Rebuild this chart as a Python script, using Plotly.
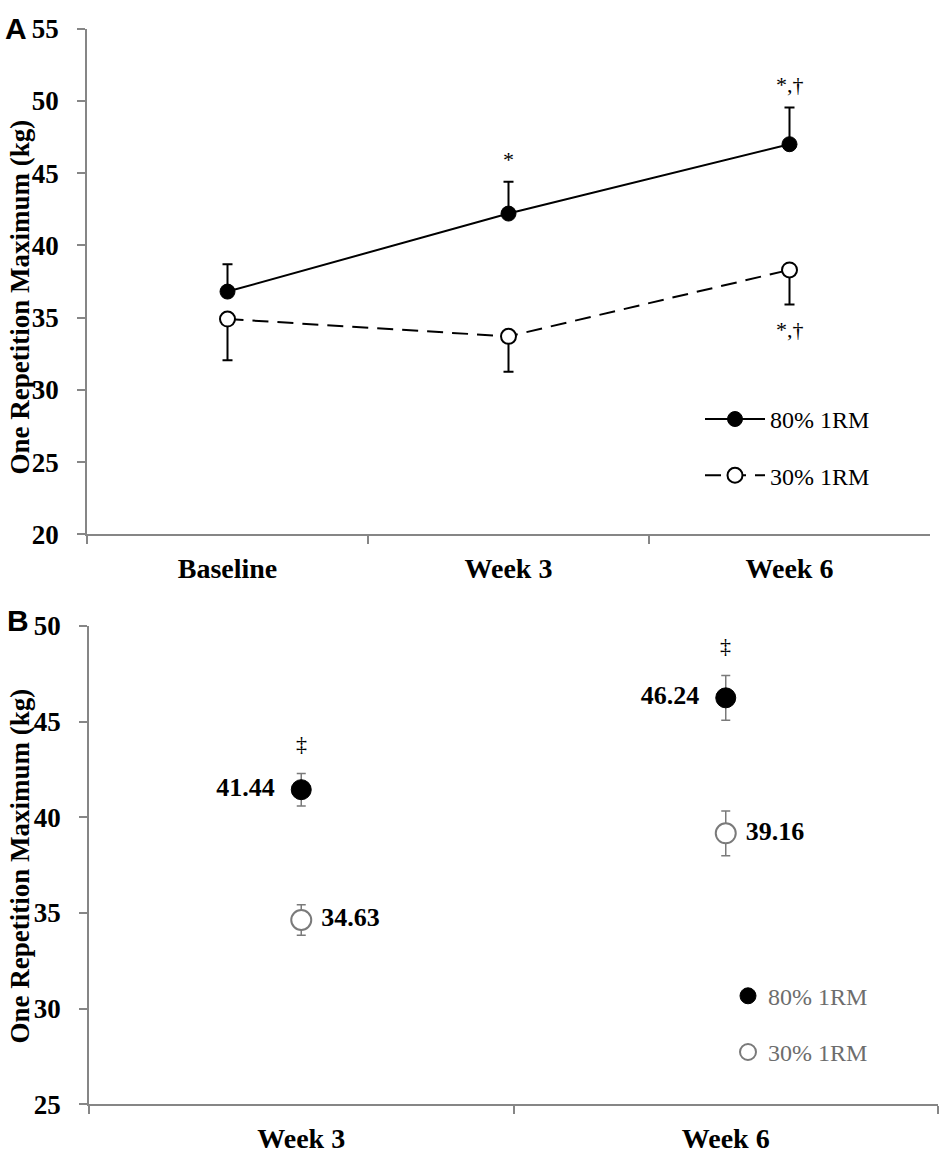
import plotly.graph_objects as go

# Panel A data
weeks_a = ["Baseline", "Week 3", "Week 6"]
rm80_a = [36.8, 42.2, 47.0]
rm80_a_err = [1.9, 2.2, 2.55]
rm30_a = [34.9, 33.7, 38.3]
rm30_a_err = [2.85, 2.45, 2.4]
sig80_a = ["", "*", "*,\u2020"]
sig30_a = ["", "", "*,\u2020"]

# Panel B data
weeks_b = ["Week 3", "Week 6"]
rm80_b = [41.44, 46.24]
rm80_b_err = [0.85, 1.17]
rm30_b = [34.63, 39.16]
rm30_b_err = [0.8, 1.17]
sig_b = ["\u2021", "\u2021"]

W, H = 945, 1167
SERIF = "Liberation Serif, Times New Roman, serif"
SANS = "Liberation Sans, Arial, sans-serif"
AXIS_GRAY = "#868686"
B_GRAY = "#7a7a7a"


def px_x(p):
    return p / W


def px_y(p):
    return (H - p) / H


fig = go.Figure()

# ---- Panel A ----
fig.add_trace(go.Scatter(
    x=weeks_a, y=rm80_a, name="80% 1RM", mode="lines+markers",
    line=dict(color="black", width=2),
    marker=dict(size=15, color="black", line=dict(color="black", width=1)),
    error_y=dict(type="data", symmetric=False, array=rm80_a_err,
                 arrayminus=[0] * len(rm80_a), color="black", thickness=2, width=5),
    xaxis="x", yaxis="y", legend="legend", legendgroup="a80",
))
fig.add_trace(go.Scatter(
    x=weeks_a, y=rm30_a, name="30% 1RM", mode="lines+markers",
    line=dict(color="black", width=2, dash="16px,9px"),
    marker=dict(size=15, color="white", line=dict(color="black", width=2)),
    error_y=dict(type="data", symmetric=False, array=[0] * len(rm30_a),
                 arrayminus=rm30_a_err, color="black", thickness=2, width=5),
    xaxis="x", yaxis="y", legend="legend", legendgroup="a30",
))

# ---- Panel B ----
fig.add_trace(go.Scatter(
    x=weeks_b, y=rm80_b, name="80% 1RM", mode="markers+text",
    marker=dict(size=20, color="black", line=dict(color="black", width=1)),
    error_y=dict(type="data", array=rm80_b_err, color=B_GRAY, thickness=1.5, width=4.5),
    texttemplate="%{y:.2f}&nbsp;&nbsp;", textposition="middle left",
    textfont=dict(family=SERIF, size=26, color="black", weight="bold"),
    xaxis="x2", yaxis="y2", legend="legend2", legendgroup="b80",
))
fig.add_trace(go.Scatter(
    x=weeks_b, y=rm30_b, name="30% 1RM", mode="markers+text",
    marker=dict(size=20, color="white", line=dict(color=B_GRAY, width=2)),
    error_y=dict(type="data", array=rm30_b_err, color=B_GRAY, thickness=1.5, width=4.5),
    texttemplate="&nbsp;%{y:.2f}", textposition="middle right",
    textfont=dict(family=SERIF, size=26, color="black", weight="bold"),
    xaxis="x2", yaxis="y2", legend="legend2", legendgroup="b30",
))

annotations = []
# significance marks, panel A
for wk, m, e, s in zip(weeks_a, rm80_a, rm80_a_err, sig80_a):
    if s:
        annotations.append(dict(x=wk, y=m + e, xref="x", yref="y", text=s,
                                showarrow=False, yanchor="bottom", yshift=8,
                                font=dict(family=SERIF, size=22, color="black")))
for wk, m, e, s in zip(weeks_a, rm30_a, rm30_a_err, sig30_a):
    if s:
        annotations.append(dict(x=wk, y=m - e, xref="x", yref="y", text=s,
                                showarrow=False, yanchor="top", yshift=-10,
                                font=dict(family=SERIF, size=22, color="black")))
# significance marks, panel B
for wk, m, e, s in zip(weeks_b, rm80_b, rm80_b_err, sig_b):
    annotations.append(dict(x=wk, y=m + e, xref="x2", yref="y2", text=s,
                            showarrow=False, yanchor="bottom", yshift=15,
                            font=dict(family=SERIF, size=22, color="black")))

# axis titles and panel letters
for yc in (290, 874):
    annotations.append(dict(x=px_x(20), y=px_y(yc), xref="paper", yref="paper",
                            text="One Repetition Maximum (kg)", textangle=-90,
                            showarrow=False, xanchor="center", yanchor="middle",
                            font=dict(family=SERIF, size=27, color="black", weight="bold")))
annotations.append(dict(x=px_x(3), y=px_y(14), xref="paper", yref="paper", text="A",
                        showarrow=False, xanchor="left", yanchor="middle",
                        font=dict(family=SANS, size=30, color="black", weight="bold")))
annotations.append(dict(x=px_x(5), y=px_y(621), xref="paper", yref="paper", text="B",
                        showarrow=False, xanchor="left", yanchor="middle",
                        font=dict(family=SANS, size=30, color="black", weight="bold")))

ytickfont = dict(family=SERIF, size=27, color="black", weight="bold")
xtickfont = dict(family=SERIF, size=28, color="black", weight="bold")
xcommon = dict(type="category", showline=True, linecolor=AXIS_GRAY, linewidth=1.5,
               ticks="outside", tickson="boundaries", ticklen=8, tickcolor=AXIS_GRAY,
               tickwidth=1.5, showgrid=False, zeroline=False, tickfont=xtickfont,
               ticklabelstandoff=8)
ycommon = dict(showline=True, linecolor=AXIS_GRAY, linewidth=1.5, ticks="outside",
               ticklen=8, tickcolor=AXIS_GRAY, tickwidth=1.5, showgrid=False,
               zeroline=False, dtick=5, tickfont=ytickfont, ticklabelstandoff=13)

fig.update_layout(
    width=W, height=H,
    margin=dict(l=0, r=0, t=0, b=0),
    paper_bgcolor="white", plot_bgcolor="white",
    showlegend=True,
    xaxis=dict(xcommon, domain=[px_x(87), px_x(930)], anchor="y", range=[-0.5, 2.5]),
    yaxis=dict(ycommon, domain=[px_y(533), px_y(14)], anchor="x", range=[20, 55]),
    xaxis2=dict(xcommon, domain=[px_x(89), px_x(938)], anchor="y2", range=[-0.5, 1.5]),
    yaxis2=dict(ycommon, domain=[px_y(1118), px_y(627)], anchor="x2", range=[25, 50]),
    legend=dict(x=px_x(700), y=px_y(392), xanchor="left", yanchor="top",
                font=dict(family=SERIF, size=24, color="black"),
                bgcolor="rgba(0,0,0,0)", tracegroupgap=22, itemwidth=60),
    legend2=dict(x=px_x(728), y=px_y(984), xanchor="left", yanchor="top",
                 font=dict(family=SERIF, size=24, color="#6d6d6d"),
                 bgcolor="rgba(0,0,0,0)", tracegroupgap=22),
    annotations=annotations,
)

fig.write_html("out.html", config={"displayModeBar": False},
               post_script="document.body.style.margin='0';")
